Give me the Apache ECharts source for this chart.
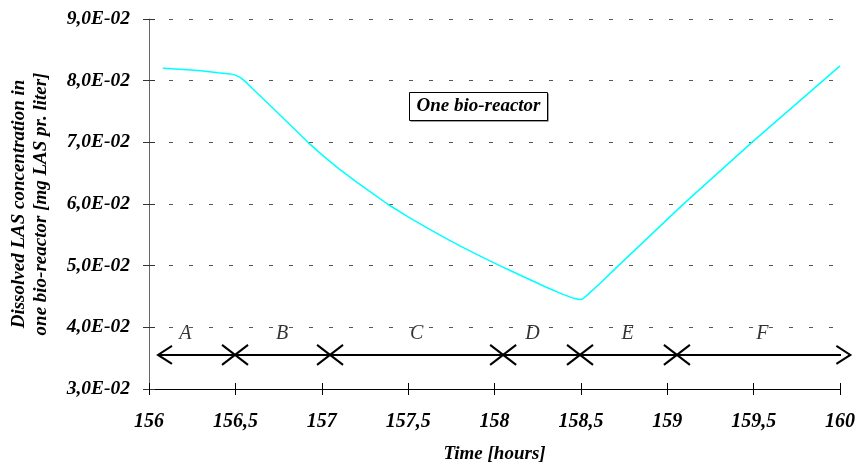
<!DOCTYPE html>
<html>
<head>
<meta charset="utf-8">
<script src="https://cdn.jsdelivr.net/npm/echarts@6/dist/echarts.min.js"></script>
<style>
html,body{margin:0;padding:0;background:#fff;}
#c{width:862px;height:466px;}
</style>
</head>
<body>
<div id="c"></div>
<script>
// ---- data ----
const timeHours = [156.08, 156.2, 156.3, 156.4, 156.47, 156.5, 156.53, 156.56, 156.6, 156.7, 156.8, 156.92, 157.0, 157.1, 157.2, 157.3, 157.38, 157.5, 157.6, 157.7, 157.8, 157.9, 158.03, 158.1, 158.2, 158.3, 158.4, 158.46, 158.49, 158.51, 158.54, 158.61, 158.71, 159.09, 159.49, 160.0];
const lasConc   = [0.0820, 0.0818, 0.0816, 0.0813, 0.0811, 0.0809, 0.0805, 0.0798, 0.0787, 0.0760, 0.0733, 0.0700, 0.0680, 0.0657, 0.0636, 0.0616, 0.0600, 0.0579, 0.0563, 0.0547, 0.0532, 0.0518, 0.0500, 0.0491, 0.0478, 0.0465, 0.0453, 0.0447, 0.0445, 0.0446, 0.0453, 0.0471, 0.0498, 0.0599, 0.0700, 0.0824];
const phaseBounds = [156.498, 157.048, 158.05, 158.495, 159.056];
const phaseArrowEnds = [156.052, 160.06];
const phaseLabels = ['A', 'B', 'C', 'D', 'E', 'F'];
const phaseLabelX = [156.21, 156.77, 157.55, 158.22, 158.77, 159.55];
const phaseArrowY = 0.03553;
const phaseLabelY = 0.0389;
const xTicks = [156, 156.5, 157, 157.5, 158, 158.5, 159, 159.5, 160];
const yTicks = [0.03, 0.04, 0.05, 0.06, 0.07, 0.08, 0.09];
const boxText = 'One bio-reactor';

const FONT = '"Liberation Serif", "Times New Roman", serif';
const chart = echarts.init(document.getElementById('c'), null, {renderer: 'canvas'});

function fmtX(v) { return String(+v.toFixed(1)).replace('.', ','); }
function fmtY(v) {
  const m = Math.round(v * 100 * 10) / 10;
  return m.toFixed(1).replace('.', ',') + 'E-02';
}

const xBase = {type: 'value', min: 156, max: 160, interval: 0.5, position: 'bottom'};
const yBase = {type: 'value', min: 0.03, max: 0.09, interval: 0.01, position: 'left'};

const option = {
  animation: false,
  backgroundColor: '#ffffff',
  grid: {left: 149, right: 22, top: 19, bottom: 77, containLabel: false, outerBoundsMode: 'none'},
  xAxis: [
    Object.assign({}, xBase, {
      name: 'Time [hours]', nameLocation: 'middle', nameGap: 56,
      nameTextStyle: {fontFamily: FONT, fontSize: 19, fontWeight: 'bold', fontStyle: 'italic', color: '#000'},
      axisLine: {show: true, lineStyle: {color: '#000', width: 1}},
      axisTick: {show: true, inside: false, length: 6, lineStyle: {color: '#000'}},
      axisLabel: {margin: 23, fontFamily: FONT, fontSize: 20, fontWeight: 'bold', fontStyle: 'italic', color: '#000', formatter: fmtX},
      splitLine: {show: false}
    }),
    Object.assign({}, xBase, {
      axisLine: {show: false}, axisLabel: {show: false}, splitLine: {show: false},
      axisTick: {show: true, inside: true, length: 6, lineStyle: {color: '#000'}}
    })
  ],
  yAxis: [
    Object.assign({}, yBase, {
      name: 'Dissolved LAS concentration in\none bio-reactor [mg LAS pr. liter]',
      nameLocation: 'middle', nameGap: 97, nameRotate: 90,
      nameTextStyle: {fontFamily: FONT, fontSize: 19, fontWeight: 'bold', fontStyle: 'italic', color: '#000', lineHeight: 22},
      axisLine: {show: true, lineStyle: {color: '#666', width: 1}},
      axisTick: {show: true, inside: false, length: 6, lineStyle: {color: '#333'}},
      axisLabel: {margin: 19, fontFamily: FONT, fontSize: 19.5, fontWeight: 'bold', fontStyle: 'italic', color: '#000', formatter: fmtY},
      splitLine: {show: true, lineStyle: {color: '#555', width: 1, type: [4, 16]}}
    }),
    Object.assign({}, yBase, {
      axisLine: {show: false}, axisLabel: {show: false}, splitLine: {show: false},
      axisTick: {show: true, inside: true, length: 6, lineStyle: {color: '#333'}}
    })
  ],
  series: [
    {
      type: 'line', xAxisIndex: 0, yAxisIndex: 0,
      data: timeHours.map((t, i) => [t, lasConc[i]]),
      showSymbol: false, symbol: 'none', smooth: false,
      lineStyle: {color: '#00FFFF', width: 1.5}, z: 5
    },
    {
      type: 'line', xAxisIndex: 0, yAxisIndex: 0, clip: false,
      data: phaseArrowEnds.map(t => [t, phaseArrowY]),
      showSymbol: false, symbol: 'none',
      lineStyle: {color: '#000', width: 2}, z: 6
    },
    {
      type: 'custom', xAxisIndex: 0, yAxisIndex: 0, clip: false, z: 7,
      data: phaseBounds.map(t => [t, phaseArrowY]),
      renderItem: function (params, api) {
        const p = api.coord([api.value(0), api.value(1)]);
        const s = {stroke: '#000', lineWidth: 2};
        return {type: 'group', children: [
          {type: 'line', shape: {x1: p[0] - 13, y1: p[1] - 10, x2: p[0] + 13, y2: p[1] + 10}, style: s},
          {type: 'line', shape: {x1: p[0] - 13, y1: p[1] + 10, x2: p[0] + 13, y2: p[1] - 10}, style: s}
        ]};
      }
    },
    {
      type: 'custom', xAxisIndex: 0, yAxisIndex: 0, clip: false, z: 7,
      data: phaseArrowEnds.map((t, i) => [t, phaseArrowY, i === 0 ? -1 : 1]),
      renderItem: function (params, api) {
        const p = api.coord([api.value(0), api.value(1)]);
        const d = api.value(2);
        return {type: 'polyline', shape: {points: [[p[0] - d * 14, p[1] - 9], [p[0], p[1]], [p[0] - d * 14, p[1] + 9]]},
          style: {stroke: '#000', lineWidth: 2, fill: null}};
      }
    },
    {
      type: 'scatter', xAxisIndex: 0, yAxisIndex: 0, symbolSize: 1, z: 8,
      itemStyle: {color: 'rgba(0,0,0,0)'},
      data: phaseLabels.map((l, i) => ({name: l, value: [phaseLabelX[i], phaseLabelY]})),
      label: {show: true, position: 'inside', formatter: '{b}', fontFamily: FONT, fontSize: 20, fontStyle: 'italic', color: '#000'},
      emphasis: {disabled: true}
    }
  ],
  graphic: [
    {
      type: 'group', left: 409, top: 92, children: [
        {type: 'rect', shape: {x: 1, y: 1, width: 138, height: 28}, style: {fill: '#444'}},
        {type: 'rect', shape: {x: 0, y: 0, width: 138, height: 28}, style: {fill: '#fff', stroke: '#000', lineWidth: 1}},
        {type: 'text', x: 69, y: 14, style: {text: boxText, fontFamily: FONT, fontSize: 19, fontWeight: 'bold', fontStyle: 'italic', fill: '#000', align: 'center', verticalAlign: 'middle'}}
      ]
    }
  ]
};
chart.setOption(option);
</script>
</body>
</html>
